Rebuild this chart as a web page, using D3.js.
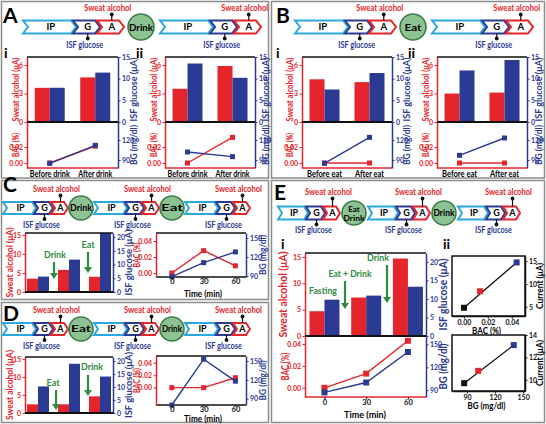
<!DOCTYPE html>
<html><head><meta charset="utf-8">
<script src="https://cdn.jsdelivr.net/npm/d3@7"></script>
<style>
body{margin:0;background:#fff}
svg{display:block}
text{font-family:Lato,"Open Sans",sans-serif;font-weight:bold}
</style>
</head><body>
<svg id="c" width="546" height="424"></svg>
<script>
// ---------------- DATA ----------------
const catsDrink = ["Before drink", "After drink"];
const catsEat = ["Before eat", "After eat"];
const aiAlcohol = [3.6, 4.7], aiGlucose = [7.9, 11.4], aiBAC = [0.0, 0.021], aiBG = [85, 112];
const aiiAlcohol = [3.5, 5.9], aiiGlucose = [13.5, 10.2], aiiBAC = [0.0, 0.032], aiiBG = [102, 95];
const biAlcohol = [4.5, 4.2], biGlucose = [7.5, 11.3], biBAC = [0.0, 0.0], biBG = [85, 124];
const biiAlcohol = [3.0, 3.1], biiGlucose = [11.9, 14.3], biiBAC = [0.0, 0.0], biiBG = [97, 123];
const times = [0, 30, 60];
const cAlcohol = [3.5, 5.8, 4.0], cGlucose = [5.6, 11.8, 21.5], cBAC = [0.0, 0.028, 0.009], cBG = [89, 111, 128];
const dAlcohol = [2.4, 2.4, 4.6], dGlucose = [10.2, 18.9, 14.0], dBAC = [0.0, 0.0, 0.016], dBG = [80, 153, 118];
const eAlcohol = [4.7, 7.3, 14.7], eGlucose = [9.8, 10.9, 13.3], eBAC = [0.0, 0.013, 0.043], eBG = [87, 100, 140];
const calBAC = [0.0, 0.0135, 0.044], calBACCurrent = [4.8, 8.4, 14.7];
const calBG = [87, 102, 140], calBGCurrent = [9.7, 10.8, 13.1];
const flowA = ["IP", "G", "A", "Drink", "IP", "G", "A"];
const flowB = ["IP", "G", "A", "Eat", "IP", "G", "A"];
const flowC = ["IP", "G", "A", "Drink", "IP", "G", "A", "Eat", "IP", "G", "A"];
const flowD = ["IP", "G", "A", "Eat", "IP", "G", "A", "Drink", "IP", "G", "A"];
const flowE = ["IP", "G", "A", "Eat\nDrink", "IP", "G", "A", "Drink", "IP", "G", "A"];
const alcTicksAB = [0, 3, 6], gluTicksAB = [0, 5, 10, 15];
const alcTicksCDE = [0, 5, 10, 15], gluTicksCDE = [0, 5, 10, 15, 20];
const bacTicksAB = [0, 0.02], bgTicksAB = [90, 120];
const bacTicks = [0, 0.02, 0.04], bgTicks = [90, 120, 150];
const calBACTicks = [0, 0.02, 0.04], calBACCurTicks = [5, 10, 15];
const calBGTicks = [90, 120, 150], calBGCurTicks = [10, 12, 14];

// ---------------- STYLE ----------------
const RED = "#e5242b", BLUE = "#2b3a92", GREEN = "#2e8b40", LBLUE = "#2aa8e0";
const CFILL = "#8fc292", CSTROKE = "#3a7d47";
const svg = d3.select("#c");

function T(g, x, y, s, o = {}) {
  const t = g.append("text").attr("x", x).attr("y", y).text(s)
    .attr("font-size", o.size || 8).attr("fill", o.color || "#000")
    .attr("text-anchor", o.anchor || "middle");
  if (o.dy) t.attr("dy", o.dy);
  if (o.rot) t.attr("transform", `rotate(${o.rot},${x},${y})`);
  if (o.len) t.attr("textLength", o.len).attr("lengthAdjust", "spacingAndGlyphs");
  if (o.family) t.attr("font-family", o.family);
  return t;
}
function styleAxis(sel, color, fs) {
  sel.attr("color", color).attr("font-size", fs).attr("font-family", "Lato").attr("font-weight", "bold");
  sel.select(".domain").attr("stroke-width", 1.5);
  sel.selectAll(".tick line").attr("stroke-width", 1);
}
function hline(g, x0, x1, y, c, w) {
  g.append("line").attr("x1", x0).attr("x2", x1).attr("y1", y).attr("y2", y).attr("stroke", c).attr("stroke-width", w);
}
function vline(g, x, y0, y1, c, w) {
  g.append("line").attr("x1", x).attr("x2", x).attr("y1", y0).attr("y2", y1).attr("stroke", c).attr("stroke-width", w);
}

// panel borders
[[1.5, 1.5, 267, 176.5], [271.5, 1.5, 273, 176.5], [1.5, 180.5, 267, 119], [1.5, 302.5, 267, 120], [271.5, 180.5, 273, 242]]
  .forEach(r => svg.append("rect").attr("x", r[0]).attr("y", r[1]).attr("width", r[2]).attr("height", r[3])
    .attr("fill", "none").attr("stroke", "#8c8c8c").attr("stroke-width", 1.5));

// panel letters
[["A", 3, 23], ["B", 276, 23], ["C", 3, 192], ["D", 3, 321], ["E", 274, 200]].forEach(d =>
  T(svg, d[1], d[2], d[0], { size: 21, anchor: "start", family: "Liberation Sans" }));

// ---------------- FLOW DIAGRAMS ----------------
function chevron(g, x0, w, yc, h, t, color, label, fs) {
  const y0 = yc - h / 2, y1 = yc + h / 2, x1 = x0 + w;
  g.append("path").attr("d", `M${x0},${y0}L${x1 - t},${y0}L${x1},${yc}L${x1 - t},${y1}L${x0},${y1}L${x0 + t},${yc}Z`)
    .attr("fill", "#fff").attr("stroke", color).attr("stroke-width", 2);
  T(g, x0 + w / 2 + t / 4, yc, label, { size: fs, dy: "0.36em" });
}
function flow(g, seq, o) {
  let x = o.x, prev = null;
  const y0 = o.yc - o.h / 2, y1 = o.yc + o.h / 2;
  seq.forEach(s => {
    if (s === "IP" || s === "G" || s === "A") {
      if (prev === "chev") x = x - o.t + 2;
      const w = o[s];
      const col = s === "IP" ? LBLUE : (s === "G" ? BLUE : RED);
      chevron(g, x, w, o.yc, o.h, o.t, col, s, o.fs);
      const px = x + w / 2 + o.t / 4;
      if (s === "A") {
        vline(g, px, y0, y0 - o.up + 2, "#111", 1.2);
        g.append("circle").attr("cx", px).attr("cy", y0 - o.up + 3.5).attr("r", 1.9).attr("fill", "#111");
        T(g, px - 4, y0 - o.up, "Sweat alcohol", { size: 8.5, color: RED, len: 47 });
      }
      if (s === "G") {
        vline(g, px, y1, y1 + 6, "#111", 1.2);
        g.append("circle").attr("cx", px).attr("cy", y1 + 5).attr("r", 1.9).attr("fill", "#111");
        T(g, px - 3, y1 + o.down, "ISF glucose", { size: 9, color: BLUE, len: 37 });
      }
      x += w; prev = "chev";
    } else {
      const cx = x + o.gb + o.r;
      g.append("circle").attr("cx", cx).attr("cy", o.yc).attr("r", o.r).attr("fill", CFILL).attr("stroke", CSTROKE).attr("stroke-width", 1.6);
      const lines = s.split("\n");
      if (lines.length === 1) T(g, cx, o.yc, s, { size: o.cfs, dy: "0.36em", len: o.clen });
      else {
        T(g, cx, o.yc - 4, lines[0], { size: 8, dy: "0.36em" });
        T(g, cx, o.yc + 5, lines[1], { size: 8, dy: "0.36em", len: 21 });
      }
      x = cx + o.r + o.ga; prev = "circle";
    }
  });
}
flow(svg, flowA, { x: 23, yc: 27, h: 13, t: 5, IP: 53, G: 27, A: 27, r: 13, gb: 4, ga: 6, fs: 9.5, cfs: 10, clen: 24, up: 9.5, down: 14 });
flow(svg, flowB, { x: 295, yc: 27, h: 13, t: 5, IP: 53, G: 27, A: 27, r: 13, gb: 4, ga: 6, fs: 9.5, cfs: 10, clen: 17, up: 9.5, down: 14 });
flow(svg, flowC, { x: 3, yc: 208, h: 12, t: 4, IP: 33, G: 19, A: 17, r: 12, gb: 1, ga: 1, fs: 9, cfs: 9.5, clen: 22, up: 10, down: 14 });
flow(svg, flowD, { x: 3, yc: 329, h: 12, t: 4, IP: 33, G: 19, A: 17, r: 12, gb: 1, ga: 1, fs: 9, cfs: 9.5, clen: 20, up: 10, down: 14 });
flow(svg, flowE, { x: 278, yc: 213, h: 13, t: 4, IP: 30, G: 19, A: 17, r: 12, gb: 2, ga: 2, fs: 9, cfs: 9.5, clen: 21, up: 11.5, down: 13 });

// sub-labels i / ii
[["i", 4, 58], ["ii", 136, 58], ["i", 276, 58], ["ii", 408, 58], ["i", 281, 249], ["ii", 443, 249]].forEach(d =>
  T(svg, d[1], d[2], d[0], { size: 14, anchor: "start", family: "Liberation Sans" }));

// ---------------- PLOT HELPERS ----------------
function barPlot(g, o) {
  const yL = d3.scaleLinear().domain(o.alcDom).range([o.yB, o.yT]);
  const yR = d3.scaleLinear().domain(o.gluDom).range([o.yB, o.yT]);
  g.append("g").selectAll("rect").data(o.alc).join("rect")
    .attr("x", (d, i) => o.xp(i) - o.bw).attr("y", d => yL(d)).attr("width", o.bw)
    .attr("height", d => o.yB - yL(d)).attr("fill", RED);
  g.append("g").selectAll("rect").data(o.glu).join("rect")
    .attr("x", (d, i) => o.xp(i)).attr("y", d => yR(Math.min(d, o.gluDom[1]))).attr("width", o.bw)
    .attr("height", d => o.yB - yR(Math.min(d, o.gluDom[1]))).attr("fill", BLUE);
  g.append("g").attr("transform", `translate(${o.x0},0)`)
    .call(d3.axisLeft(yL).tickValues(o.alcTicks).tickSize(2.5).tickSizeOuter(0).tickPadding(1.5).tickFormat(d3.format("d")))
    .call(styleAxis, RED, o.fs);
  g.append("g").attr("transform", `translate(${o.x1},0)`)
    .call(d3.axisRight(yR).tickValues(o.gluTicks).tickSize(2.5).tickSizeOuter(0).tickPadding(1.5).tickFormat(d3.format("d")))
    .call(styleAxis, BLUE, o.fs);
  hline(g, o.x0, o.x1, o.yT, "#111", 1.5);
  hline(g, o.x0, o.x1, o.yB, "#111", 2);
  const cy = (o.yT + o.yB) / 2;
  T(g, o.lx, cy, "Sweat alcohol (\u03bcA)", { size: o.tfs, color: RED, rot: -90, dy: "0.36em", len: o.llen });
  T(g, o.rx, cy, "ISF glucose (\u03bcA)", { size: o.tfs, color: BLUE, rot: -90, dy: "0.36em", len: o.rlen });
}
function linePlot(g, o) {
  const yL = d3.scaleLinear().domain(o.bacDom).range([o.yB, o.yT]);
  const yR = d3.scaleLinear().domain(o.bgDom).range([o.yB, o.yT]);
  if (o.top) hline(g, o.x0, o.x1, o.yT, o.top, 1.5);
  hline(g, o.x0, o.x1, o.yB, o.bottom, 1.5);
  g.append("g").attr("transform", `translate(${o.x0},0)`)
    .call(d3.axisLeft(yL).tickValues(o.bacTicks).tickSize(2.5).tickSizeOuter(0).tickPadding(1.5).tickFormat(d3.format(".2f")))
    .call(styleAxis, RED, o.fs);
  g.append("g").attr("transform", `translate(${o.x1},0)`)
    .call(d3.axisRight(yR).tickValues(o.bgTicks).tickSize(2.5).tickSizeOuter(0).tickPadding(1.5).tickFormat(d3.format("d")))
    .call(styleAxis, BLUE, o.fs);
  const ms = o.ms || 5;
  [[o.bac, yL, RED], [o.bg, yR, BLUE]].forEach(([vals, sc, col]) => {
    g.append("path").datum(vals).attr("fill", "none").attr("stroke", col).attr("stroke-width", 1.4)
      .attr("d", d3.line().x((d, i) => o.xp(i)).y(d => sc(d)));
    g.append("g").selectAll("rect").data(vals).join("rect")
      .attr("x", (d, i) => o.xp(i) - ms / 2).attr("y", d => sc(d) - ms / 2)
      .attr("width", ms).attr("height", ms).attr("fill", col);
  });
  const cy = (o.yT + o.yB) / 2;
  T(g, o.lx, cy + (o.ldy || 0), "BAC (%)", { size: o.tfs, color: RED, rot: -90, dy: "0.36em", len: o.blen });
  T(g, o.rx, cy + (o.rdy || 0), "BG (mg/dl)", { size: o.tfs, color: BLUE, rot: -90, dy: "0.36em", len: o.glen });
}
function timeAxis(g, x, y, lblY, titleY, titleX, tlen) {
  g.append("g").attr("transform", `translate(0,${y})`)
    .call(d3.axisBottom(x).tickValues(times).tickSize(2.5).tickSizeOuter(0).tickPadding(2))
    .call(sel => { sel.attr("font-size", 7.5).attr("font-family", "Lato").attr("font-weight", "bold").attr("color", "#111");
      sel.select(".domain").remove(); sel.selectAll(".tick text").attr("y", lblY - y).attr("dy", 0); });
  T(g, titleX, titleY, "Time (min)", { size: 9.5, len: tlen });
}

// ---------------- PANELS A / B ----------------
function abPanel(cats, alc, glu, bac, bg, x0, x1, lx, rx) {
  const xs = d3.scalePoint().domain(cats).range([x0, x1]).padding(0.5);
  const xp = i => xs(cats[i]);
  barPlot(svg, { x0, x1, yT: 57, yB: 122, xp, alc, glu, alcDom: [0, 6.85], gluDom: [0, 15],
    alcTicks: alcTicksAB, gluTicks: gluTicksAB, bw: 15, fs: 7, tfs: 10, lx, rx, llen: 64, rlen: 64 });
  linePlot(svg, { x0, x1, yT: 122, yB: 168, xp, bac, bg, bacDom: [-0.00625, 0.05125], bgDom: [78, 147],
    bacTicks: bacTicksAB, bgTicks: bgTicksAB, bottom: RED, fs: 7, tfs: 10, lx, rx, blen: 24, glen: 40, ms: 5 });
  cats.forEach((c, i) => T(svg, xp(i), 176.5, c, { size: 9, len: c.startsWith("Before") ? (c.endsWith("drink") ? 40 : 35) : (c.endsWith("drink") ? 34 : 29) }));
}
abPanel(catsDrink, aiAlcohol, aiGlucose, aiBAC, aiBG, 27, 118, 15, 133);
abPanel(catsDrink, aiiAlcohol, aiiGlucose, aiiBAC, aiiBG, 165, 255, 153, 265);
abPanel(catsEat, biAlcohol, biGlucose, biBAC, biBG, 302, 392, 289, 406);
abPanel(catsEat, biiAlcohol, biiGlucose, biiBAC, biiBG, 437, 527, 425, 538);

// ---------------- PANELS C / D ----------------
function greenArrow(g, x, y1, y2) {
  vline(g, x, y1, y2 - 5, GREEN, 2.2);
  g.append("path").attr("d", `M${x - 4},${y2 - 6}L${x + 4},${y2 - 6}L${x},${y2}Z`).attr("fill", GREEN);
}
function cdPanel(alc, glu, bac, bg, yT, yB, lyT, lyB, tickY, titleY, bacDom, bgDom) {
  const xs = d3.scalePoint().domain(times).range([25, 113]).padding(0.42);
  const xp = i => xs(times[i]);
  barPlot(svg, { x0: 25, x1: 113, yT, yB, xp, alc, glu, alcDom: [0, 15.5], gluDom: [0, 21.5],
    alcTicks: alcTicksCDE, gluTicks: gluTicksCDE, bw: 11, fs: 7, tfs: 10, lx: 9, rx: 128, llen: 70, rlen: 66 });
  const xt = d3.scaleLinear().domain([-15, 70]).range([156, 246]);
  linePlot(svg, { x0: 156, x1: 246, yT: lyT, yB: lyB, xp: i => xt(times[i]), bac, bg, bacDom, bgDom,
    bacTicks, bgTicks, top: "#111", bottom: "#111", fs: 7, tfs: 10, lx: 136, rx: 262, blen: 25, glen: 40, ms: 5 });
  timeAxis(svg, xt, lyB, tickY, titleY, 203, 38);
}
cdPanel(cAlcohol, cGlucose, cBAC, cBG, 233, 292, 233, 277, 284, 296.5, [-0.005, 0.05], [88.4, 157.9]);
T(svg, 55, 258, "Drink", { size: 10, color: GREEN, len: 22 });
greenArrow(svg, 54, 262, 279);
T(svg, 88, 248, "Eat", { size: 10, color: GREEN, len: 13 });
greenArrow(svg, 88, 252, 273);
cdPanel(dAlcohol, dGlucose, dBAC, dBG, 357, 413, 356, 405, 412, 422, [-0.028, 0.051], [80, 158]);
T(svg, 53, 386, "Eat", { size: 10, color: GREEN, len: 13 });
greenArrow(svg, 56, 390, 410);
T(svg, 92, 370, "Drink", { size: 10, color: GREEN, len: 22 });
greenArrow(svg, 88, 375, 396);

// ---------------- PANEL E ----------------
const xE = d3.scaleLinear().domain([-14, 73]).range([305, 426]);
barPlot(svg, { x0: 305, x1: 426, yT: 253, yB: 336, xp: i => xE(times[i]), alc: eAlcohol, glu: eGlucose,
  alcDom: [0, 15.75], gluDom: [0, 22.4], alcTicks: alcTicksCDE, gluTicks: gluTicksCDE, bw: 15, fs: 7, tfs: 11.5,
  lx: 283, rx: 443, llen: 86, rlen: 72 });
linePlot(svg, { x0: 305, x1: 426, yT: 336, yB: 397, xp: i => xE(times[i]), bac: eBAC, bg: eBG,
  bacDom: [-0.0084, 0.0474], bgDom: [81, 161], bacTicks, bgTicks, bottom: RED, fs: 7, tfs: 11,
  lx: 285, rx: 443, blen: 28, glen: 46, ms: 6 });
timeAxis(svg, xE, 397, 405, 417.5, 365, 42);
T(svg, 323, 294, "Fasting", { size: 10, color: GREEN, len: 28 });
T(svg, 350, 277, "Eat + Drink", { size: 10, color: GREEN, len: 43 });
greenArrow(svg, 345, 281, 309);
T(svg, 378, 261, "Drink", { size: 10, color: GREEN, len: 22 });
greenArrow(svg, 387, 265, 303);

// calibration scatter plots
function calPlot(xv, yv, xDom, yDom, xTicks, yTicks, xFmt, yT, yB, xTitle, xlen) {
  const x0 = 452, x1 = 525;
  const sx = d3.scaleLinear().domain(xDom).range([x0, x1]);
  const sy = d3.scaleLinear().domain(yDom).range([yB, yT]);
  svg.append("rect").attr("x", x0).attr("y", yT).attr("width", x1 - x0).attr("height", yB - yT)
    .attr("fill", "none").attr("stroke", "#111").attr("stroke-width", 1.5);
  svg.append("g").attr("transform", `translate(0,${yB})`)
    .call(d3.axisBottom(sx).tickValues(xTicks).tickSize(2.5).tickSizeOuter(0).tickPadding(1.5).tickFormat(d3.format(xFmt)))
    .call(styleAxis, "#111", 7);
  svg.append("g").attr("transform", `translate(${x1},0)`)
    .call(d3.axisRight(sy).tickValues(yTicks).tickSize(2.5).tickSizeOuter(0).tickPadding(1.5).tickFormat(d3.format("d")))
    .call(styleAxis, "#111", 7);
  svg.append("line").attr("x1", sx(xv[0])).attr("y1", sy(yv[0])).attr("x2", sx(xv[2])).attr("y2", sy(yv[2]))
    .attr("stroke", "#111").attr("stroke-width", 1.3);
  const cols = ["#111", RED, BLUE];
  svg.append("g").selectAll("rect").data(xv).join("rect")
    .attr("x", (d, i) => sx(d) - 3).attr("y", (d, i) => sy(yv[i]) - 3).attr("width", 6).attr("height", 6)
    .attr("fill", (d, i) => cols[i]);
  T(svg, (x0 + x1) / 2 - 2, yB + 17.5, xTitle, { size: 9, len: xlen });
  T(svg, 540, (yT + yB) / 2, "Current (\u03bcA)", { size: 9, rot: -90, dy: "0.36em", len: 46 });
}
calPlot(calBAC, calBACCurrent, [-0.01, 0.051], [3, 16.1], calBACTicks, calBACCurTicks, ".2f", 256, 316, "BAC (%)", 29);
calPlot(calBG, calBGCurrent, [74, 152], [9, 14], calBGTicks, calBGCurTicks, "d", 335, 391, "BG (mg/dl)", 38);
</script>
</body></html>
